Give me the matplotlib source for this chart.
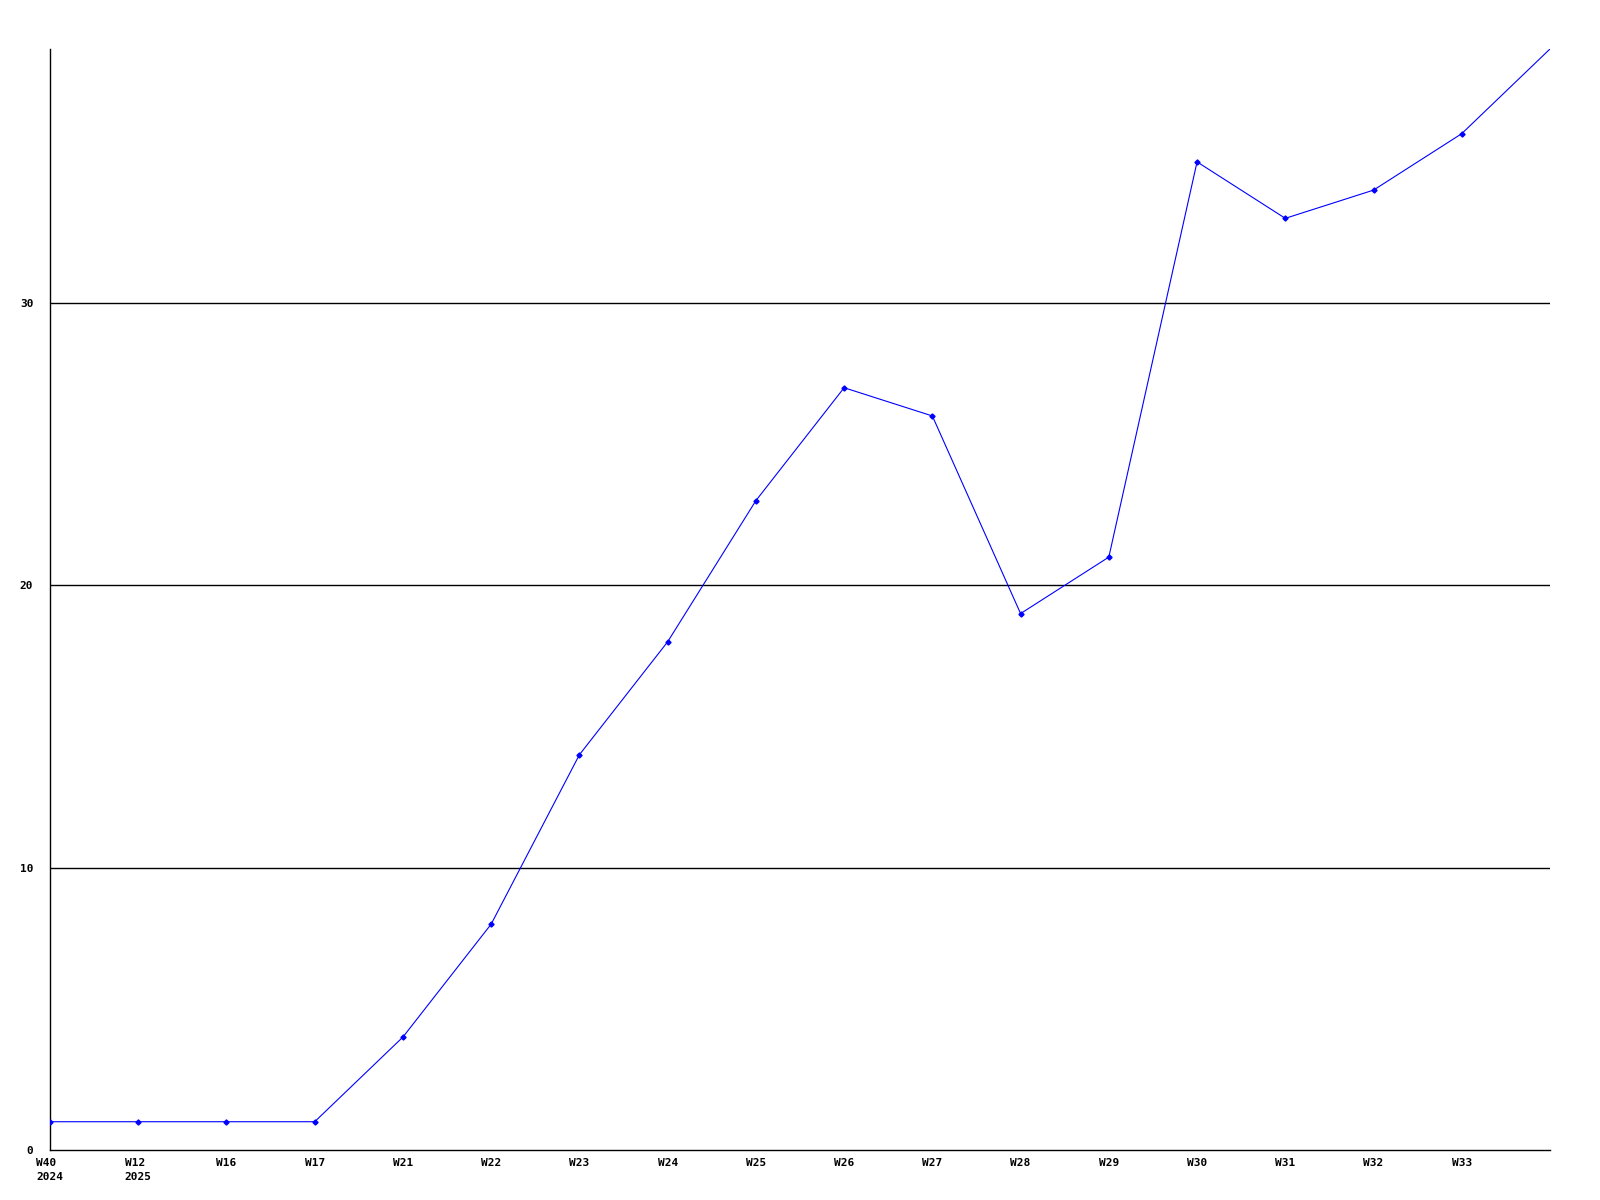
import matplotlib.pyplot as plt
import numpy as np

WEEK_LABELS = ["W40\n2024", "W12\n2025", "W16", "W17", "W21", "W22", "W23", "W24",
               "W25", "W26", "W27", "W28", "W29", "W30", "W31", "W32", "W33", ""]
VALUES = [1, 1, 1, 1, 4, 8, 14, 18, 23, 27, 26, 19, 21, 35, 33, 34, 36, 39]
Y_TICKS = [0, 10, 20, 30]

FONT = {"family": "DejaVu Sans Mono", "weight": "bold", "size": 8}


def main():
    x = np.arange(len(VALUES))
    fig = plt.figure(figsize=(16, 12), dpi=100)
    ax = fig.add_axes([0.03125, 0.0417, 0.9375, 0.9175])

    ax.plot(x, VALUES, color="#0000FF", linewidth=0.8, zorder=3)
    ax.plot(x[:-1], VALUES[:-1], linestyle="none", marker="D", markersize=2.6,
            color="#0000FF", zorder=4)

    for y in Y_TICKS[1:]:
        ax.axhline(y, color="black", linewidth=1.0, zorder=1)

    ax.set_xlim(x[0], x[-1])
    ax.set_ylim(0, 39)
    ax.set_xticks(x)
    ax.set_xticklabels(WEEK_LABELS, fontdict=FONT, multialignment="left",
                       linespacing=1.5)
    ax.set_yticks(Y_TICKS)
    ax.set_yticklabels([str(v) for v in Y_TICKS], fontdict=FONT)
    ax.tick_params(axis="both", length=0)
    ax.tick_params(axis="x", pad=6)
    ax.tick_params(axis="y", pad=12)

    ax.spines["top"].set_visible(False)
    ax.spines["right"].set_visible(False)
    ax.spines["left"].set_linewidth(1.0)
    ax.spines["bottom"].set_linewidth(1.0)

    fig.savefig("out.png", dpi=100)


if __name__ == "__main__":
    main()
